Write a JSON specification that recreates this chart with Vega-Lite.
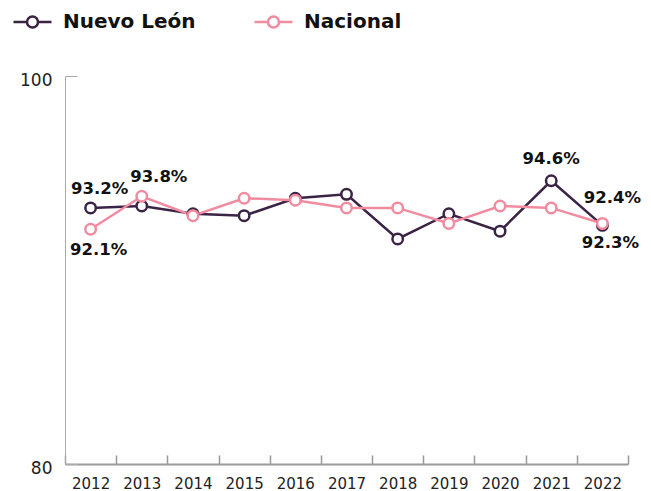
{
  "$schema": "https://vega.github.io/schema/vega-lite/v6.json",
  "width": 563,
  "height": 388,
  "autosize": {"type": "none"},
  "padding": {"left": 65, "top": 76, "right": 23, "bottom": 27},
  "background": "white",
  "config": {
    "view": {"stroke": null},
    "font": "DejaVu Sans",
    "text": {"fontSize": 16.5, "fontWeight": "bold", "color": "#111111"}
  },
  "datasets": {
    "series": [
      {"year": "2012", "serie": "Nuevo León", "valor": 93.2},
      {"year": "2013", "serie": "Nuevo León", "valor": 93.3},
      {"year": "2014", "serie": "Nuevo León", "valor": 92.9},
      {"year": "2015", "serie": "Nuevo León", "valor": 92.8},
      {"year": "2016", "serie": "Nuevo León", "valor": 93.7},
      {"year": "2017", "serie": "Nuevo León", "valor": 93.9},
      {"year": "2018", "serie": "Nuevo León", "valor": 91.6},
      {"year": "2019", "serie": "Nuevo León", "valor": 92.9},
      {"year": "2020", "serie": "Nuevo León", "valor": 92.0},
      {"year": "2021", "serie": "Nuevo León", "valor": 94.6},
      {"year": "2022", "serie": "Nuevo León", "valor": 92.3},
      {"year": "2012", "serie": "Nacional", "valor": 92.1},
      {"year": "2013", "serie": "Nacional", "valor": 93.8},
      {"year": "2014", "serie": "Nacional", "valor": 92.8},
      {"year": "2015", "serie": "Nacional", "valor": 93.7},
      {"year": "2016", "serie": "Nacional", "valor": 93.6},
      {"year": "2017", "serie": "Nacional", "valor": 93.2},
      {"year": "2018", "serie": "Nacional", "valor": 93.2},
      {"year": "2019", "serie": "Nacional", "valor": 92.4},
      {"year": "2020", "serie": "Nacional", "valor": 93.3},
      {"year": "2021", "serie": "Nacional", "valor": 93.2},
      {"year": "2022", "serie": "Nacional", "valor": 92.4}
    ],
    "labels": [
      {"year": "2012", "valor": 93.2, "texto": "93.2%"},
      {"year": "2012", "valor": 92.1, "texto": "92.1%"},
      {"year": "2013", "valor": 93.8, "texto": "93.8%"},
      {"year": "2021", "valor": 94.6, "texto": "94.6%"},
      {"year": "2022", "valor": 92.4, "texto": "92.4%"},
      {"year": "2022", "valor": 92.3, "texto": "92.3%"}
    ]
  },
  "encoding": {
    "x": {
      "field": "year", "type": "ordinal", "bandPosition": 0.5,
      "scale": {"type": "band", "paddingInner": 0, "paddingOuter": 0},
      "axis": {
        "title": null, "labelAngle": 0, "tickBand": "extent",
        "domainColor": "#999999", "domainWidth": 2,
        "tickColor": "#999999", "tickWidth": 1.5, "tickSize": -9,
        "labelFontSize": 15, "labelColor": "#222222", "labelPadding": 21
      }
    },
    "y": {
      "field": "valor", "type": "quantitative",
      "scale": {"domain": [80, 100], "zero": false},
      "axis": {
        "title": null, "values": [80, 100], "grid": false,
        "domainColor": "#aaaaaa", "domainWidth": 1,
        "tickColor": "#aaaaaa", "tickSize": -12, "tickWidth": 1,
        "labelFontSize": 17, "labelColor": "#222222", "labelPadding": 25,
        "labelOffset": 4
      }
    }
  },
  "layer": [
    {
      "data": {"name": "series"},
      "mark": {"type": "line", "strokeWidth": 2.5},
      "encoding": {
        "color": {
          "field": "serie", "type": "nominal",
          "scale": {"domain": ["Nuevo León", "Nacional"], "range": ["#3b2346", "#f08ba0"]},
          "legend": {
            "title": null, "orient": "none", "direction": "horizontal",
            "legendX": -53, "legendY": -75,
            "symbolType": "M-1,0 L-0.29,0 M0.29,0 L1,0 M0.29,0 A0.29,0.29 0 1,1 -0.29,0 A0.29,0.29 0 1,1 0.29,0",
            "symbolSize": 1444, "symbolStrokeWidth": 2.5, "symbolFillColor": "white",
            "labelFontSize": 20, "labelFontWeight": "bold", "labelColor": "#111111",
            "labelOffset": 10, "columnPadding": 53
          }
        }
      }
    },
    {
      "data": {"name": "series"},
      "mark": {"type": "point", "filled": true, "fill": "white", "size": 110, "strokeWidth": 2.5, "opacity": 1},
      "encoding": {
        "stroke": {"field": "serie", "type": "nominal", "scale": {"domain": ["Nuevo León", "Nacional"], "range": ["#3b2346", "#f08ba0"]}, "legend": null}
      }
    },
    {
      "data": {"name": "labels"},
      "transform": [{"filter": "datum.texto == '93.2%'"}],
      "mark": {"type": "text", "dy": -19, "dx": 9},
      "encoding": {"text": {"field": "texto"}}
    },
    {
      "data": {"name": "labels"},
      "transform": [{"filter": "datum.texto == '92.1%'"}],
      "mark": {"type": "text", "dy": 21, "dx": 8},
      "encoding": {"text": {"field": "texto"}}
    },
    {
      "data": {"name": "labels"},
      "transform": [{"filter": "datum.texto == '93.8%'"}],
      "mark": {"type": "text", "dy": -19, "dx": 17},
      "encoding": {"text": {"field": "texto"}}
    },
    {
      "data": {"name": "labels"},
      "transform": [{"filter": "datum.texto == '94.6%'"}],
      "mark": {"type": "text", "dy": -22, "dx": 0},
      "encoding": {"text": {"field": "texto"}}
    },
    {
      "data": {"name": "labels"},
      "transform": [{"filter": "datum.texto == '92.4%'"}],
      "mark": {"type": "text", "dy": -25, "dx": 10},
      "encoding": {"text": {"field": "texto"}}
    },
    {
      "data": {"name": "labels"},
      "transform": [{"filter": "datum.texto == '92.3%'"}],
      "mark": {"type": "text", "dy": 18, "dx": 8},
      "encoding": {"text": {"field": "texto"}}
    }
  ]
}
